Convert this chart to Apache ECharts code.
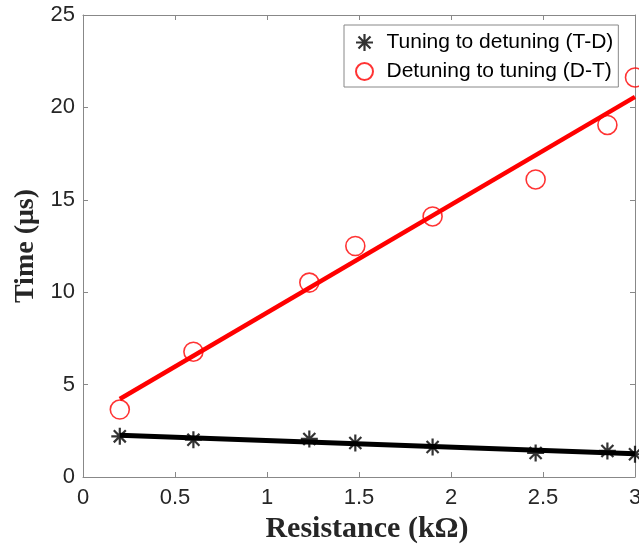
<!DOCTYPE html>
<html>
<head>
<meta charset="utf-8">
<script src="https://cdn.jsdelivr.net/npm/echarts@6/dist/echarts.min.js"></script>
<style>html,body{margin:0;padding:0;background:#fff}#chart{width:639px;height:546px}</style>
</head>
<body>
<div id="chart"></div>
<script>
// Data
var resistance = [0.2, 0.6, 1.23, 1.48, 1.9, 2.46, 2.85, 3.0];
var timeTD = [2.2, 2.02, 2.06, 1.84, 1.62, 1.3, 1.41, 1.23];
var timeDT = [3.65, 6.78, 10.52, 12.5, 14.1, 16.1, 19.05, 21.62];
// Fitted lines (end points)
var fitX = [0.2, 3.0];
var fitTD = [2.26, 1.26];
var fitDT = [4.22, 20.57];
var xTicks = [0, 0.5, 1, 1.5, 2, 2.5, 3];
var yTicks = [0, 5, 10, 15, 20, 25];
var nameTD = 'Tuning to detuning (T-D)';
var nameDT = 'Detuning to tuning (D-T)';

function pairs(xs, ys) { return xs.map(function (x, i) { return [x, ys[i]]; }); }

var asterisk = 'path://M8.7 0H11.3V20H8.7Z M0 8.7H20V11.3H0Z M3.85 2.01L17.99 16.15L16.15 17.99L2.01 3.85Z M16.15 2.01L17.99 3.85L3.85 17.99L2.01 16.15Z';

var axisColor = '#888888';
var labelColor = '#262626';
var chart = echarts.init(document.getElementById('chart'), null, {renderer: 'canvas'});
var commonX = {
  type: 'value', min: xTicks[0], max: xTicks[xTicks.length - 1], interval: 0.5,
  splitLine: {show: false},
  axisLine: {show: true, onZero: false, lineStyle: {color: axisColor, width: 1}},
  axisTick: {show: true, inside: true, length: 5, lineStyle: {color: axisColor}}
};
var commonY = {
  type: 'value', min: yTicks[0], max: yTicks[yTicks.length - 1], interval: 5,
  splitLine: {show: false},
  axisLine: {show: true, onZero: false, lineStyle: {color: axisColor, width: 1}},
  axisTick: {show: true, inside: true, length: 5, lineStyle: {color: axisColor}}
};
var option = {
  animation: false,
  backgroundColor: '#ffffff',
  grid: {left: 83, right: 4, top: 15, bottom: 69, containLabel: false, outerBoundsMode: 'none'},
  legend: {
    show: true,
    data: [nameTD, nameDT],
    orient: 'vertical',
    left: 344, top: 25,
    padding: [7, 5, 5, 11],
    itemWidth: 26, itemHeight: 17, itemGap: 8,
    backgroundColor: '#ffffff',
    borderColor: axisColor, borderWidth: 1,
    textStyle: {fontFamily: 'Liberation Sans', fontSize: 21, color: '#000', padding: [0, 0, 0, 4]}
  },
  xAxis: [
    Object.assign({}, commonX, {
      position: 'bottom',
      axisLabel: {fontFamily: 'Liberation Sans', fontSize: 22, color: labelColor, margin: 10},
      name: 'Resistance (k\u03A9)', nameLocation: 'middle', nameGap: 35,
      nameTextStyle: {fontFamily: 'Liberation Serif', fontWeight: 'bold', fontSize: 30, color: labelColor, padding: [0, 0, 0, 16]}
    }),
    Object.assign({}, commonX, {position: 'top', axisLabel: {show: false}})
  ],
  yAxis: [
    Object.assign({}, commonY, {
      position: 'left',
      axisLabel: {fontFamily: 'Liberation Sans', fontSize: 22, color: labelColor, margin: 8},
      name: 'Time (\u03BCs)', nameLocation: 'middle', nameGap: 43,
      nameTextStyle: {fontFamily: 'Liberation Serif', fontWeight: 'bold', fontSize: 28, color: labelColor}
    }),
    Object.assign({}, commonY, {position: 'right', axisLabel: {show: false}})
  ],
  series: [
    {
      name: nameTD, type: 'scatter', xAxisIndex: 0, yAxisIndex: 0,
      data: pairs(resistance, timeTD), symbol: asterisk, symbolSize: 17,
      itemStyle: {color: '#000000'}, clip: false, z: 3
    },
    {
      name: nameDT, type: 'scatter', xAxisIndex: 0, yAxisIndex: 0,
      data: pairs(resistance, timeDT), symbol: 'circle', symbolSize: 19,
      itemStyle: {color: 'rgba(0,0,0,0)', borderColor: '#ff0000', borderWidth: 1.6}, clip: false, z: 3
    },
    {
      name: 'fitTD', type: 'line', data: pairs(fitX, fitTD), symbol: 'none',
      lineStyle: {color: '#000000', width: 5}, itemStyle: {color: '#000000'}, z: 4
    },
    {
      name: 'fitDT', type: 'line', data: pairs(fitX, fitDT), symbol: 'none',
      lineStyle: {color: '#ff0000', width: 4.5}, itemStyle: {color: '#ff0000'}, z: 4
    }
  ]
};
chart.setOption(option);
</script>
</body>
</html>
